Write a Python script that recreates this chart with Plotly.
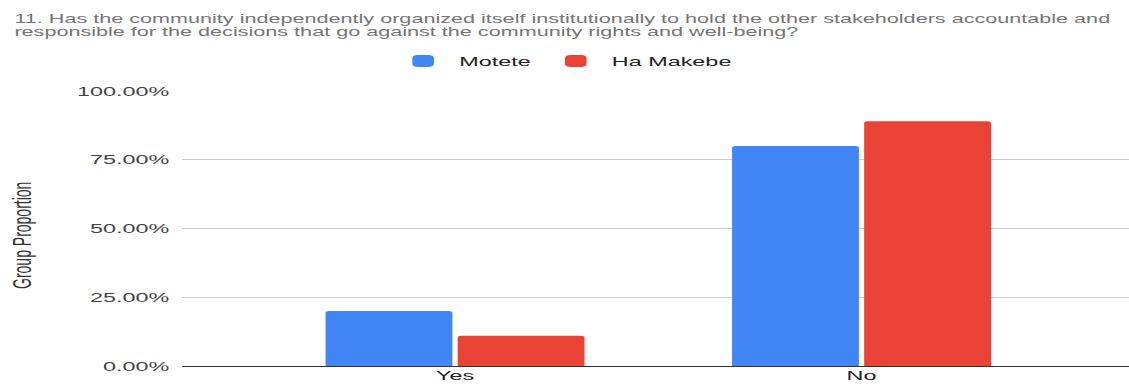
import plotly.graph_objects as go

# Survey question 11: share of respondents per answer, by community
categories = ["Yes", "No"]
motete = [0.20, 0.80]
ha_makebe = [0.11, 0.89]
y_ticks = [0, 0.25, 0.50, 0.75, 1.00]

question_lines = [
    "11. Has the community independently organized itself institutionally to hold the other "
    "stakeholders accountable and",
    "responsible for the decisions that go against the community rights and well-being?",
]
y_title = "Group Proportion"

# The chart is laid out on a narrower canvas and widened horizontally on the page
STRETCH = 1.8
W_PAGE, H_PAGE = 1129, 387
W = round(W_PAGE / STRETCH)
K = W_PAGE / W

M_L, M_T, M_B = 101, 91, 21
PLOT_W = W - M_L
PLOT_H = H_PAGE - M_T - M_B


def px_x(x):
    """Canvas x pixel -> paper x."""
    return (x - M_L) / PLOT_W


def px_y(y):
    """Canvas y pixel (from top) -> paper y."""
    return (H_PAGE - M_B - y) / PLOT_H


FONT = "Liberation Sans, Arial, sans-serif"

fig = go.Figure()
fig.add_trace(go.Bar(name="Motete", x=categories, y=motete,
                     marker=dict(color="#4285F4", cornerradius=2, line_width=0)))
fig.add_trace(go.Bar(name="Ha Makebe", x=categories, y=ha_makebe,
                     marker=dict(color="#EA4335", cornerradius=2, line_width=0)))

annotations = []
for text, yc in zip(question_lines, [19, 32]):
    annotations.append(dict(text=text, xref="paper", yref="paper",
                            x=px_x(5.5), y=px_y(yc), xanchor="left", yanchor="middle",
                            showarrow=False, align="left",
                            font=dict(family=FONT, size=12, color="#757575")))
annotations.append(dict(text=y_title, xref="paper", yref="paper",
                        x=px_x(12.5), y=px_y(235.5), xanchor="center", yanchor="middle",
                        textangle=-90, showarrow=False,
                        font=dict(family=FONT, size=14, color="#333333")))

fig.update_layout(
    width=W, height=H_PAGE,
    margin=dict(l=M_L, r=0, t=M_T, b=M_B),
    paper_bgcolor="white", plot_bgcolor="white",
    font=dict(family=FONT, size=13, color="#444444"),
    barmode="group", bargap=0.35, bargroupgap=0.04,
    showlegend=True,
    legend=dict(orientation="h", xref="container", yref="container",
                x=0.5, xanchor="center", y=1 - 61 / H_PAGE, yanchor="middle",
                font=dict(size=13, color="#222222"), itemwidth=30,
                traceorder="normal"),
    annotations=annotations,
    hovermode=False,
)

fig.update_xaxes(range=[-0.672, 1.658], showgrid=False, showline=False, zeroline=False,
                 ticks="", tickfont=dict(size=13, color="#222222"), ticklabelstandoff=0)
fig.update_yaxes(range=[0, 1.0005], tickvals=y_ticks, tickformat=".2%",
                 showgrid=True, gridcolor="#cccccc", gridwidth=1,
                 zeroline=True, zerolinecolor="#333333", zerolinewidth=1,
                 showline=False, ticks="", ticklabelstandoff=6,
                 tickfont=dict(size=13, color="#444444"))

widen = ("var gd=document.getElementById('{plot_id}');"
         "gd.style.transformOrigin='0 0';"
         "gd.style.transform='scaleX(%.5f)';" % K)

fig.write_html("out.html", post_script=widen, config={"responsive": False, "displayModeBar": False})
